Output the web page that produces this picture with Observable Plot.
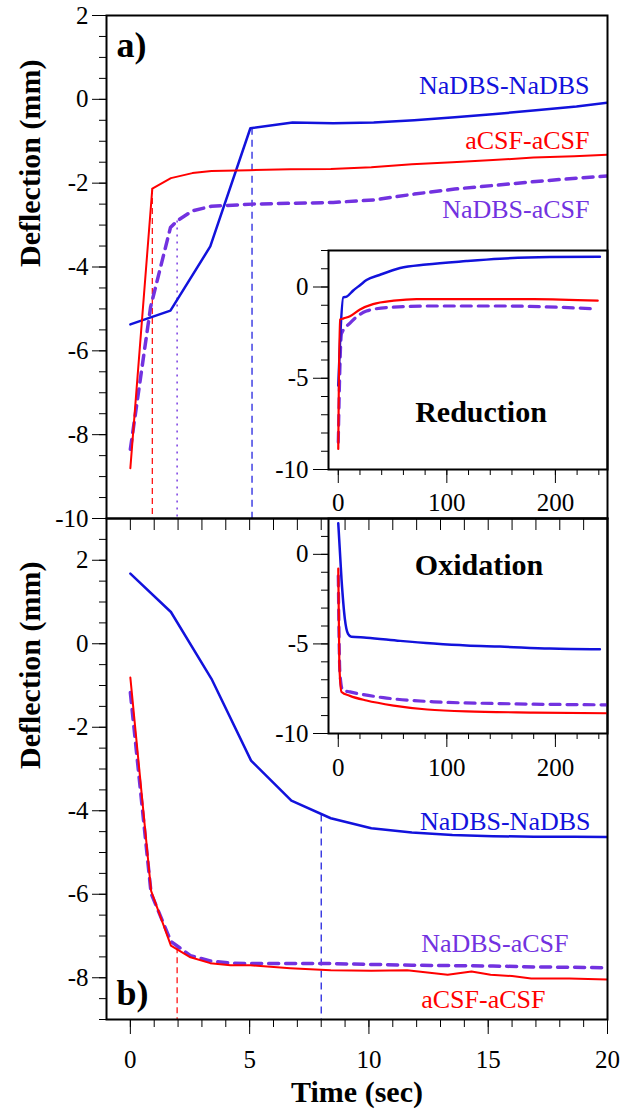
<!DOCTYPE html>
<html><head><meta charset="utf-8">
<script src="https://cdn.jsdelivr.net/npm/d3@7"></script>
<script src="https://cdn.jsdelivr.net/npm/@observablehq/plot@0.6"></script>
<style>
body{margin:0;background:#fff;}
#c{position:relative;width:623px;height:1111px;overflow:hidden;background:#fff;font-family:'Liberation Serif',serif;}
#c svg{position:absolute;left:0;top:0;overflow:visible;background:transparent;}
#c svg text{font-family:'Liberation Serif','Times New Roman',serif !important;}
</style></head><body><div id="c"></div>
<script>
const FONT = "Liberation Serif";
const seriesNames = ["NaDBS-NaDBS", "aCSF-aCSF", "NaDBS-aCSF"];
const seriesColors = ["#1212dc", "#ff0000", "#7232e0"];
const panelLetters = ["a)", "b)"];
const insetTitles = ["Reduction", "Oxidation"];
const xTitle = "Time (sec)";
const yTitle = "Deflection (mm)";

// Panel a) main, time (sec) vs deflection (mm)
const blueA_t = [0, 1.68, 3.35, 5.03, 6.8, 8.5, 10.2, 11.9, 13.6, 15.3, 17.0, 18.7, 20];
const blueA_v = [-5.37, -5.04, -3.51, -0.69, -0.55, -0.57, -0.55, -0.5, -0.43, -0.35, -0.26, -0.17, -0.08];
const redA_t = [0, 0.92, 1.7, 2.6, 3.4, 5.0, 6.7, 8.4, 10.1, 11.8, 13.5, 15.2, 16.9, 18.6, 20];
const redA_v = [-8.8, -2.13, -1.88, -1.76, -1.71, -1.69, -1.67, -1.66, -1.62, -1.55, -1.5, -1.45, -1.39, -1.36, -1.32];
const purpleA_t = [0, 0.85, 1.68, 1.96, 2.6, 3.4, 5.1, 6.8, 8.5, 10.2, 11.9, 13.6, 15.3, 17.0, 18.7, 20];
const purpleA_v = [-8.35, -4.95, -3.06, -2.9, -2.66, -2.55, -2.5, -2.48, -2.46, -2.4, -2.26, -2.14, -2.05, -1.96, -1.88, -1.83];
const markA_t = [0.92, 1.96, 5.1];
const markA_v = [-2.13, -2.9, -0.69];

// Panel b) main
const blueB_t = [0, 1.7, 3.4, 5.06, 6.75, 8.4, 10.1, 11.8, 13.5, 15.2, 16.9, 18.6, 20];
const blueB_v = [1.68, 0.76, -0.84, -2.80, -3.76, -4.18, -4.42, -4.52, -4.58, -4.61, -4.62, -4.62, -4.63];
const redB_t = [0, 0.87, 1.7, 2.52, 3.35, 4.2, 5.03, 6.7, 8.4, 10.1, 11.6, 13.3, 14.3, 15.1, 16.0, 16.8, 18.4, 20];
const redB_v = [-0.81, -5.92, -7.23, -7.51, -7.65, -7.70, -7.70, -7.77, -7.82, -7.83, -7.82, -7.93, -7.85, -7.93, -7.96, -8.02, -8.02, -8.04];
const purpleB_t = [0, 0.87, 1.7, 2.52, 3.35, 4.2, 5.03, 6.7, 8.4, 10.1, 11.8, 13.5, 15.2, 16.9, 18.6, 20];
const purpleB_v = [-1.17, -5.98, -7.13, -7.47, -7.6, -7.65, -7.66, -7.66, -7.66, -7.68, -7.7, -7.71, -7.72, -7.74, -7.75, -7.76];
const markB_t = [1.96, 8.0];
const markB_v = [-7.28, -4.1];

// Inset Reduction
const blueR_t = [0, 2, 4.6, 7.7, 13.8, 20, 26, 38, 57, 81, 118, 149, 195, 241];
const blueR_v = [-5.4, -2.5, -0.57, -0.53, -0.19, 0.1, 0.38, 0.66, 1.04, 1.23, 1.42, 1.55, 1.64, 1.66];
const redR_t = [0, 1.5, 5, 10.8, 20, 32, 51, 72, 118, 180, 239];
const redR_v = [-8.87, -1.79, -1.72, -1.6, -1.23, -0.94, -0.75, -0.66, -0.66, -0.66, -0.75];
const purpleR_t = [0, 3, 10.8, 26, 45, 88, 149, 234];
const purpleR_v = [-8.5, -2.55, -1.98, -1.32, -1.13, -1.04, -1.04, -1.19];

// Inset Oxidation
const blueO_t = [0, 3, 6, 9, 12, 26, 57, 88, 118, 149, 195, 241];
const blueO_v = [1.73, -1.4, -3.57, -4.44, -4.6, -4.65, -4.83, -4.98, -5.09, -5.15, -5.26, -5.3];
const redO_t = [0, 1, 3, 10.8, 26, 51, 82, 118, 180, 248];
const redO_v = [-0.8, -6.2, -7.68, -7.9, -8.16, -8.44, -8.66, -8.77, -8.83, -8.87];
const purpleO_t = [0, 1.5, 4, 10.8, 41.5, 88, 149, 248];
const purpleO_v = [-1.2, -6.6, -7.58, -7.68, -8.0, -8.23, -8.33, -8.4];

const rows = (t, v) => t.map((x, i) => ({t: x, v: v[i]}));
const blank = () => "";
const plain = (d) => `${d}`;
const W = 623, H = 1111;
const container = document.getElementById("c");
const baseStyle = {fontFamily: FONT, fontSize: "25px", color: "black", background: "transparent", overflow: "visible"};
const F = {fontFamily: FONT};

function seriesMarks(b, r, p, curve, widths) {
  return [
    Plot.line(p, {x: "t", y: "v", stroke: seriesColors[2], strokeWidth: widths[2], strokeDasharray: "10,7", curve, clip: true}),
    Plot.line(b, {x: "t", y: "v", stroke: seriesColors[0], strokeWidth: widths[0], curve, clip: true}),
    Plot.line(r, {x: "t", y: "v", stroke: seriesColors[1], strokeWidth: widths[1], curve, clip: true})
  ];
}

// ---------- Panel a ----------
const bA = rows(blueA_t, blueA_v), rA = rows(redA_t, redA_v), pA = rows(purpleA_t, purpleA_v);
const mA = rows(markA_t, markA_v);
const plotA = Plot.plot({
  width: W, height: H,
  marginTop: 15, marginBottom: H - 518, marginLeft: 106, marginRight: 16,
  x: {domain: [-1, 20]},
  y: {domain: [-10, 2]},
  style: baseStyle,
  marks: [
    Plot.axisY(d3.range(-10, 2.01, 2), {...F, tickSize: 14, tickPadding: 4, fontSize: 25, tickFormat: plain, label: null}),
    Plot.axisY(d3.range(-10, 2.01, 0.5), {tickSize: 7, tickFormat: blank, label: null}),
    Plot.axisX(d3.range(0, 20.01, 1), {tickSize: 12, tickFormat: blank, label: null}),
    Plot.ruleX([mA[0]], {x: "t", y1: "v", y2: -10, stroke: seriesColors[1], strokeWidth: 1.2, strokeDasharray: "6,4"}),
    Plot.ruleX([mA[1]], {x: "t", y1: "v", y2: -10, stroke: seriesColors[2], strokeWidth: 1.4, strokeDasharray: "2,5"}),
    Plot.ruleX([mA[2]], {x: "t", y1: "v", y2: -10, stroke: seriesColors[0], strokeWidth: 1.2, strokeDasharray: "7,5"}),
    ...seriesMarks(bA, rA, pA, "linear", [2.5, 2, 3.5]),
    Plot.frame({stroke: "black", strokeWidth: 2}),
    Plot.text(bA, Plot.selectLast({...F, x: "t", y: "v", text: () => seriesNames[0], fill: seriesColors[0], textAnchor: "end", dx: -18, dy: -17, fontSize: 26})),
    Plot.text(rA, Plot.selectLast({...F, x: "t", y: "v", text: () => seriesNames[1], fill: seriesColors[1], textAnchor: "end", dx: -18, dy: -14, fontSize: 26})),
    Plot.text(pA, Plot.selectLast({...F, x: "t", y: "v", text: () => seriesNames[2], fill: seriesColors[2], textAnchor: "end", dx: -18, dy: 34, fontSize: 26})),
    Plot.text([panelLetters[0]], {...F, frameAnchor: "top-left", dx: 10, dy: 30, textAnchor: "start", lineAnchor: "middle", fontSize: 36, fontWeight: "bold"}),
    Plot.text([yTitle], {...F, frameAnchor: "left", dx: -76, rotate: -90, lineAnchor: "middle", fontSize: 30, fontWeight: "bold"})
  ]
});
container.appendChild(plotA);

// ---------- Panel b ----------
const bB = rows(blueB_t, blueB_v), rB = rows(redB_t, redB_v), pB = rows(purpleB_t, purpleB_v);
const mB = rows(markB_t, markB_v);
const plotB = Plot.plot({
  width: W, height: H,
  marginTop: 518, marginBottom: H - 1019, marginLeft: 106, marginRight: 16,
  x: {domain: [-1, 20]},
  y: {domain: [-9, 3]},
  style: baseStyle,
  marks: [
    Plot.axisY(d3.range(-8, 2.01, 2), {...F, tickSize: 14, tickPadding: 4, fontSize: 25, tickFormat: plain, label: null}),
    Plot.axisY(d3.range(-9, 3.01, 0.5), {tickSize: 7, tickFormat: blank, label: null}),
    Plot.axisX(d3.range(0, 20.01, 5), {...F, tickSize: 15, tickPadding: 16, fontSize: 25, tickFormat: plain, label: null}),
    Plot.axisX(d3.range(0, 20.01, 1), {tickSize: 8, tickFormat: blank, label: null}),
    Plot.ruleX([mB[0]], {x: "t", y1: "v", y2: -9, stroke: seriesColors[1], strokeWidth: 1.2, strokeDasharray: "6,4"}),
    Plot.ruleX([mB[1]], {x: "t", y1: "v", y2: -9, stroke: seriesColors[0], strokeWidth: 1.2, strokeDasharray: "7,5"}),
    ...seriesMarks(bB, rB, pB, "linear", [2.5, 2, 3.5]),
    Plot.frame({stroke: "black", strokeWidth: 2}),
    Plot.text(bB, Plot.selectLast({...F, x: "t", y: "v", text: () => seriesNames[0], fill: seriesColors[0], textAnchor: "end", dx: -17, dy: -15, fontSize: 26})),
    Plot.text(pB, Plot.selectLast({...F, x: "t", y: "v", text: () => seriesNames[2], fill: seriesColors[2], textAnchor: "end", dx: -39, dy: -24, fontSize: 26})),
    Plot.text(rB, Plot.selectLast({...F, x: "t", y: "v", text: () => seriesNames[1], fill: seriesColors[1], textAnchor: "end", dx: -62, dy: 20, fontSize: 26})),
    Plot.text([panelLetters[1]], {...F, frameAnchor: "bottom-left", dx: 10, dy: -26, textAnchor: "start", lineAnchor: "middle", fontSize: 36, fontWeight: "bold"}),
    Plot.text([yTitle], {...F, frameAnchor: "left", dx: -76, rotate: -90, lineAnchor: "middle", fontSize: 30, fontWeight: "bold"}),
    Plot.text([xTitle], {...F, frameAnchor: "bottom", dy: 73, lineAnchor: "middle", fontSize: 30, fontWeight: "bold"})
  ]
});
container.appendChild(plotB);

// ---------- Insets ----------
function inset(top, bottom, b, r, p, title, titleOpts, labelPad) {
  return Plot.plot({
    width: W, height: H,
    marginTop: top, marginBottom: H - bottom, marginLeft: 328, marginRight: 16,
    x: {domain: [-9, 248]},
    y: {domain: [-10, 2]},
    style: baseStyle,
    marks: [
      Plot.axisY([-10, -5, 0], {...F, tickSize: 15, tickPadding: 5, fontSize: 25, tickFormat: plain, label: null}),
      Plot.axisY(d3.range(-10, 2.01, 1), {tickSize: 7, tickFormat: blank, label: null}),
      Plot.axisX([0, 100, 200], {...F, tickSize: 14, tickPadding: labelPad, fontSize: 25, tickFormat: plain, label: null}),
      Plot.axisX(d3.range(0, 241, 20), {tickSize: 6, tickFormat: blank, label: null}),
      ...seriesMarks(b, r, p, "monotone-x", [2.5, 2.2, 3.2]),
      Plot.frame({stroke: "black", strokeWidth: 2}),
      Plot.text([title], {...F, ...titleOpts, lineAnchor: "middle", fontSize: 30, fontWeight: "bold"})
    ]
  });
}
container.appendChild(inset(250, 469,
  rows(blueR_t, blueR_v), rows(redR_t, redR_v), rows(purpleR_t, purpleR_v),
  insetTitles[0], {frameAnchor: "bottom", dx: 13, dy: -57}, 10));
container.appendChild(inset(518, 733,
  rows(blueO_t, blueO_v), rows(redO_t, redO_v), rows(purpleO_t, purpleO_v),
  insetTitles[1], {frameAnchor: "top", dx: 11, dy: 47}, 11));
</script>
</body></html>
